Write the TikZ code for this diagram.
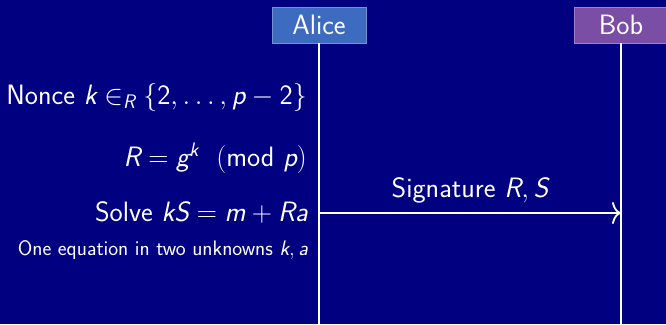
\RequirePackage{fix-cm}
\documentclass[tikz,border=0pt]{standalone}
\usepackage{amsmath}
\usetikzlibrary{arrows.meta}
\newcommand\vi[1]{\text{\itshape #1}}
\newcommand\vu[1]{\text{#1}}
\definecolor{bgnavy}{HTML}{000080}
\definecolor{alicefill}{HTML}{3C6BC0}
\definecolor{aliceedge}{HTML}{7290D4}
\definecolor{bobfill}{HTML}{7A4EA4}
\definecolor{bobedge}{HTML}{A080C4}
\tikzset{
  actor/.style={minimum width=94pt, minimum height=36pt, inner sep=0pt, text=white, font=\sffamily\fontsize{28}{33}\selectfont, line width=0.8pt},
  lifeline/.style={white, line width=1.8pt},
  note/.style={anchor=east, text=white, inner sep=0pt, font=\sffamily\fontsize{28}{33}\selectfont},
  smallnote/.style={anchor=east, text=white, inner sep=0pt, font=\sffamily\fontsize{21}{25}\selectfont},
  msg/.style={white, line width=1.8pt, -{Computer Modern Rightarrow[length=9pt,width=22pt,line width=1.8pt]}},
}
\begin{document}
\begin{tikzpicture}[x=1pt,y=1pt]
\fill[bgnavy] (0,0) rectangle (666,-324);
\useasboundingbox (0,0) rectangle (666,-324);
\node[actor, fill=alicefill, draw=aliceedge] (alice) at (319,-25) {Alice};
\node[actor, fill=bobfill, draw=bobedge] (bob) at (621,-25) {Bob};
\coordinate (aend) at (319,-324);
\coordinate (bend) at (621,-324);
\draw[lifeline] (alice.south) -- (aend);
\draw[lifeline] (bob.south) -- (bend);
\node[note] (nonce) at (307,-97) {Nonce $\vi{k}\in_{\vi{R}}\{\vu{2},\ldots,\vi{p}-\vu{2}\}$};
\node[note] (rdef) at (307,-158) {$\vi{R}=\vi{g}^{\vi{k}}\ \ (\vu{mod}\ \vi{p})$};
\node[note] (solve) at (308,-212) {Solve $\vi{kS}=\vi{m}+\vi{Ra}$};
\node[smallnote] (oneeq) at (308,-250) {One equation in two unknowns $\vi{k},\vi{a}$};
\coordinate (sa) at (319,-213);
\coordinate (sb) at (621,-213);
\draw[msg] (sa) -- (sb) node[midway, above=6pt, text=white, font=\sffamily\fontsize{28}{33}\selectfont] (sig) {Signature $\vi{R},\vi{S}$};
\end{tikzpicture}
\end{document}
